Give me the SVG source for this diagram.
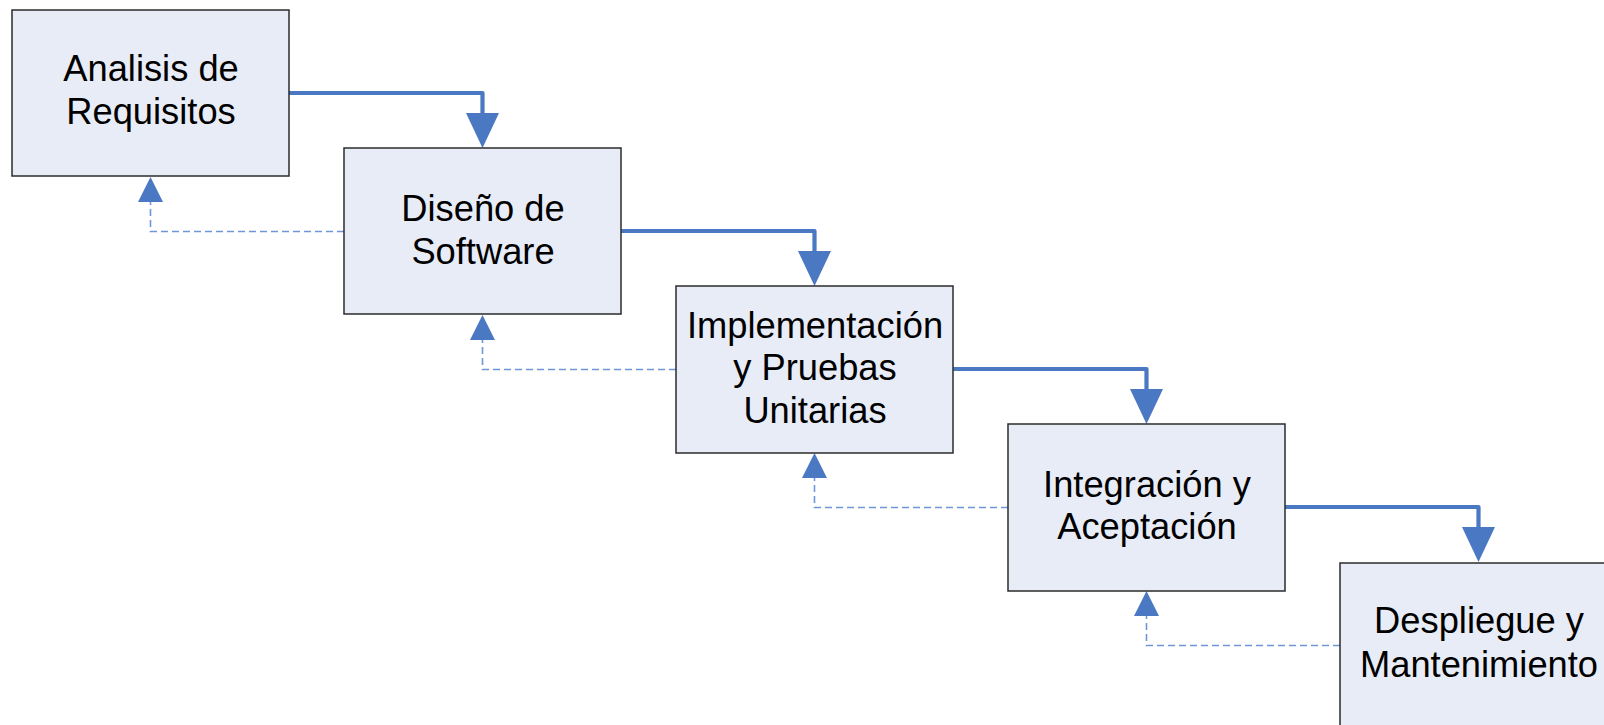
<svg xmlns="http://www.w3.org/2000/svg" width="1604" height="725" viewBox="0 0 1604 725">
<style>
.box{fill:#e8ecf7;stroke:#2b2b2b;stroke-width:1.5}
.lbl{font-family:"Liberation Sans",Arial,sans-serif;font-size:36.3px;fill:#000;text-anchor:middle}
.fwd{fill:none;stroke:#4a78c2;stroke-width:4.2;stroke-linejoin:round;stroke-linecap:round}
.back{fill:none;stroke:#6f96d8;stroke-width:1.6;stroke-dasharray:7 4}
.ah{fill:#4a78c2}
</style>
<rect width="1604" height="725" fill="#ffffff"/>
<g id="connectors">
  <path class="fwd" d="M289,93 H482.5 V114"/>
  <polygon class="ah" points="466,113 499,113 482.5,148"/>
  <path class="fwd" d="M621,231 H814.5 V252"/>
  <polygon class="ah" points="798,251 831,251 814.5,286"/>
  <path class="fwd" d="M953,369 H1146.5 V390"/>
  <polygon class="ah" points="1130,389 1163,389 1146.5,424"/>
  <path class="fwd" d="M1285,507 H1478.5 V528"/>
  <polygon class="ah" points="1462,527 1495,527 1478.5,562"/>
  <path class="back" d="M344,231.5 H150.5 V202"/>
  <polygon class="ah" points="138,202 163,202 150.5,177"/>
  <path class="back" d="M676,369.5 H482.5 V340"/>
  <polygon class="ah" points="470,340 495,340 482.5,315"/>
  <path class="back" d="M1008,507.5 H814.5 V478"/>
  <polygon class="ah" points="802,478 827,478 814.5,453"/>
  <path class="back" d="M1340,645.5 H1146.5 V616"/>
  <polygon class="ah" points="1134,616 1159,616 1146.5,591"/>
</g>
<g id="n1">
  <rect class="box" x="12" y="10" width="277" height="166"/>
  <text class="lbl" x="151" y="81">Analisis de</text>
  <text class="lbl" x="151" y="124">Requisitos</text>
</g>
<g id="n2">
  <rect class="box" x="344" y="148" width="277" height="166"/>
  <text class="lbl" x="483" y="221">Diseño de</text>
  <text class="lbl" x="483" y="264">Software</text>
</g>
<g id="n3">
  <rect class="box" x="676" y="286" width="277" height="167"/>
  <text class="lbl" x="815" y="338">Implementación</text>
  <text class="lbl" x="815" y="380">y Pruebas</text>
  <text class="lbl" x="815" y="423">Unitarias</text>
</g>
<g id="n4">
  <rect class="box" x="1008" y="424" width="277" height="167"/>
  <text class="lbl" x="1147" y="497">Integración y</text>
  <text class="lbl" x="1147" y="539">Aceptación</text>
</g>
<g id="n5">
  <rect class="box" x="1340" y="563" width="277" height="167"/>
  <text class="lbl" x="1479" y="633">Despliegue y</text>
  <text class="lbl" x="1479" y="677">Mantenimiento</text>
</g>
</svg>
